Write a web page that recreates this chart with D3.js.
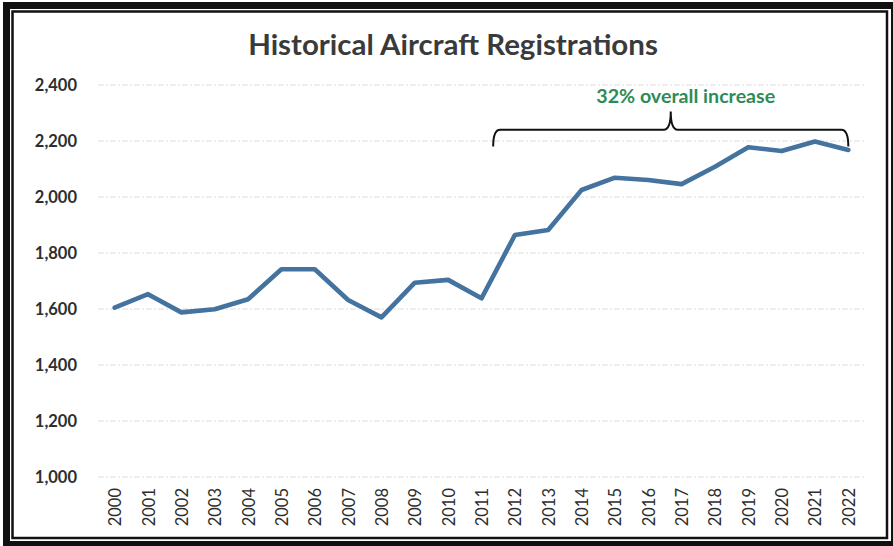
<!DOCTYPE html>
<html>
<head>
<meta charset="utf-8">
<script src="https://cdn.jsdelivr.net/npm/d3@7/dist/d3.min.js"></script>
<style>
  html, body { margin: 0; padding: 0; background: #fff; }
  svg { display: block; }
</style>
</head>
<body>
<svg id="chart" width="893" height="546"></svg>
<script>
const years = ["2000","2001","2002","2003","2004","2005","2006","2007","2008","2009","2010","2011",
               "2012","2013","2014","2015","2016","2017","2018","2019","2020","2021","2022"];
const registrations = [1605,1653,1588,1599,1635,1742,1742,1632,1570,1694,1704,1638,
                       1864,1882,2025,2069,2061,2046,2108,2178,2164,2198,2168];
const yTicks = [1000,1200,1400,1600,1800,2000,2200,2400];
const chartTitle = "Historical Aircraft Registrations";
const annotationText = "32% overall increase";
const braceFrom = "2011", braceTo = "2022";

const svg = d3.select("#chart");
const W = 893, H = 546;
const FONT = "Lato, 'Open Sans', sans-serif";

// frame
svg.append("rect").attr("x", 3).attr("y", 2).attr("width", W).attr("height", H).attr("fill", "#111");
svg.append("rect").attr("x", 10).attr("y", 9).attr("width", 881).attr("height", 532).attr("fill", "#fff");
svg.append("rect").attr("x", 12.5).attr("y", 11.5).attr("width", 874.5).attr("height", 526.5)
   .attr("fill", "none").attr("stroke", "#111").attr("stroke-width", 2.5);

const plot = { left: 98, right: 865, top: 85, bottom: 477 };

const x = d3.scalePoint().domain(years).range([plot.left, plot.right]).padding(0.5);
const y = d3.scaleLinear().domain([1000, 2400]).range([plot.bottom, plot.top]);

function fitWidth(sel, target) {
  const fs = +sel.attr("font-size");
  const w = sel.node().getComputedTextLength();
  if (w > 0) sel.attr("font-size", fs * target / w);
}

// gridlines
svg.append("g").selectAll("line").data(yTicks).join("line")
  .attr("x1", plot.left).attr("x2", plot.right)
  .attr("y1", d => y(d)).attr("y2", d => y(d))
  .attr("stroke", "#dcdcdc").attr("stroke-width", 1).attr("stroke-dasharray", "6,2,2,2");

// y axis
const yAxis = d3.axisLeft(y).tickValues(yTicks).tickFormat(d3.format(",")).tickSize(0).tickPadding(0);
const gy = svg.append("g").attr("transform", "translate(77,0)").call(yAxis);
gy.select(".domain").remove();
gy.selectAll("text").attr("font-family", FONT).attr("font-weight", "bold")
  .attr("font-size", 16.5).attr("fill", "#2e2e2e").attr("dy", "0.35em");

// x axis
const xAxis = d3.axisBottom(x).tickSize(0).tickPadding(0);
const gx = svg.append("g").attr("transform", `translate(0,${plot.bottom})`).call(xAxis);
gx.select(".domain").remove();
gx.selectAll("text")
  .attr("font-family", FONT).attr("font-size", 16.5).attr("fill", "#2e2e2e")
  .attr("text-anchor", "end").attr("dy", null)
  .attr("transform", "translate(0,11) rotate(-90)")
  .attr("y", 0).attr("x", 0).attr("dominant-baseline", "central");

// line
const line = d3.line().x((d, i) => x(years[i])).y(d => y(d));
svg.append("path").datum(registrations).attr("d", line)
  .attr("fill", "none").attr("stroke", "#45739f").attr("stroke-width", 4.6)
  .attr("stroke-linejoin", "round").attr("stroke-linecap", "round");

// title
const t = svg.append("text").attr("x", 453).attr("y", 55).attr("text-anchor", "middle")
  .attr("font-family", FONT).attr("font-weight", "bold")
  .attr("font-size", 26).attr("fill", "#3a3a3a").text(chartTitle);
fitWidth(t, 410);

// brace annotation
const bx1 = x(braceFrom) + x.step() * 0.35;
const bx2 = x(braceTo);
const byTop = y(2240), byEnd = y(2180), byPeak = y(2305);
const bmid = (bx1 + bx2) / 2;
const r = 7;
const bracePath = `M${bx1},${byEnd} Q${bx1},${byTop} ${bx1 + r},${byTop} L${bmid - r},${byTop} Q${bmid},${byTop} ${bmid},${byPeak}
  Q${bmid},${byTop} ${bmid + r},${byTop} L${bx2 - r},${byTop} Q${bx2},${byTop} ${bx2},${byEnd}`;
svg.append("path").attr("d", bracePath).attr("fill", "none").attr("stroke", "#111").attr("stroke-width", 2);

const a = svg.append("text").attr("x", bmid + 15).attr("y", y(2337)).attr("text-anchor", "middle")
  .attr("font-family", FONT).attr("font-weight", "bold")
  .attr("font-size", 19).attr("fill", "#2e8b57").text(annotationText);
fitWidth(a, 179);
</script>
</body>
</html>
